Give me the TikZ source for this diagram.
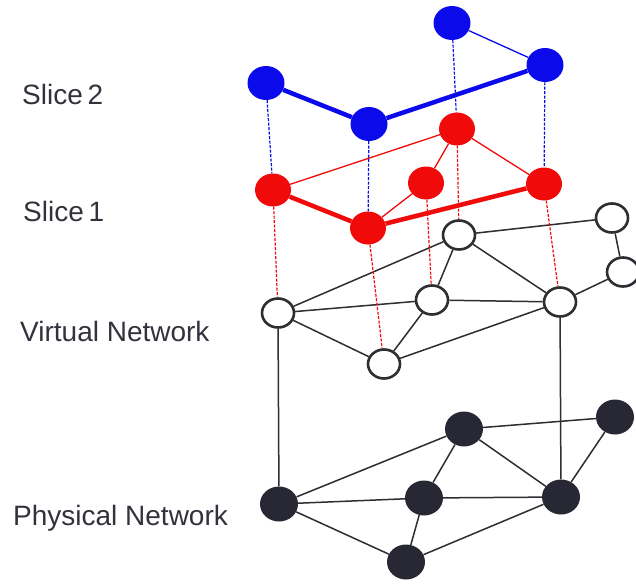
\documentclass[tikz,border=0pt]{standalone}
\usepackage{fontspec}
\setmainfont{Liberation Sans}
\usetikzlibrary{shapes.geometric}
\definecolor{bnode}{RGB}{10,10,235}
\definecolor{rnode}{RGB}{240,10,10}
\definecolor{pnode}{RGB}{40,40,52}
\definecolor{txt}{RGB}{50,50,60}
\definecolor{edge}{RGB}{45,45,50}
\tikzset{
  bluen/.style={ellipse,fill=bnode,minimum width=37pt,minimum height=34pt,inner sep=0pt},
  redn/.style={ellipse,fill=rnode,minimum width=36pt,minimum height=33pt,inner sep=0pt},
  virtn/.style={ellipse,draw=edge,line width=2.6pt,fill=white,minimum width=32pt,minimum height=29pt,inner sep=0pt},
  physn/.style={ellipse,fill=pnode,minimum width=38pt,minimum height=35pt,inner sep=0pt},
  lbl/.style={anchor=west,text=txt,font=\fontsize{28}{30}\selectfont,inner sep=0pt},
  bthick/.style={draw=bnode,line width=4.5pt},
  bthin/.style={draw=bnode,line width=1.3pt},
  rthick/.style={draw=rnode,line width=4.5pt},
  rthin/.style={draw=rnode,line width=1.3pt},
  bdash/.style={draw=bnode,line width=1.2pt,dash pattern=on 3pt off 1.5pt},
  rdash/.style={draw=rnode,line width=1.2pt,dash pattern=on 3pt off 1.5pt},
  vedge/.style={draw=edge,line width=1.5pt},
}
\begin{document}
\begin{tikzpicture}[x=1pt,y=-1pt]
\useasboundingbox (0,0) rectangle (636,583);
% labels
\node[lbl] (l2) at (22,94) {Slice\,2};
\node[lbl] (l1) at (23,211) {Slice\,1};
\node[lbl] (lv) at (20,331) {Virtual Network};
\node[lbl] (lp) at (13,518) {Physical Network};
% physical
\node[physn] (P1) at (279,504) {};
\node[physn] (P2) at (406,562) {};
\node[physn] (P3) at (424,498) {};
\node[physn] (P4) at (464,429) {};
\node[physn] (P5) at (561,497) {};
\node[physn] (P6) at (615,417) {};
% virtual
\node[virtn] (V1) at (278,313) {};
\node[virtn] (V2) at (384,364) {};
\node[virtn] (V3) at (432,300) {};
\node[virtn] (V4) at (459,235) {};
\node[virtn] (V5) at (560,302) {};
\node[virtn] (V6) at (612,218) {};
\node[virtn] (V7) at (623,272) {};
% slice 1
\node[redn] (R1) at (273,190) {};
\node[redn] (R2) at (368,228) {};
\node[redn] (R3) at (426,183) {};
\node[redn] (R4) at (457,129) {};
\node[redn] (R5) at (544,184) {};
% slice 2
\node[bluen] (B1) at (266,83) {};
\node[bluen] (B2) at (369,124) {};
\node[bluen] (B3) at (452,23) {};
\node[bluen] (B4) at (545,65) {};
% physical edges
\draw[vedge] (P1) -- (P4);
\draw[vedge] (P1) -- (P3);
\draw[vedge] (P1) -- (P2);
\draw[vedge] (P2) -- (P3);
\draw[vedge] (P3) -- (P4);
\draw[vedge] (P3) -- (P5);
\draw[vedge] (P4) -- (P5);
\draw[vedge] (P2) -- (P5);
\draw[vedge] (P4) -- (P6);
\draw[vedge] (P5) -- (P6);
% virtual edges
\draw[vedge] (V1) -- (V4);
\draw[vedge] (V1) -- (V3);
\draw[vedge] (V1) -- (V2);
\draw[vedge] (V2) -- (V3);
\draw[vedge] (V3) -- (V4);
\draw[vedge] (V3) -- (V5);
\draw[vedge] (V4) -- (V5);
\draw[vedge] (V2) -- (V5);
\draw[vedge] (V5) -- (V7);
\draw[vedge] (V6) -- (V7);
\draw[vedge] (V4) -- (V6);
% virtual to physical
\draw[vedge] (V1) -- (P1);
\draw[vedge] (V5) -- (P5);
% slice 1 edges
\draw[rthick] (R1) -- (R2);
\draw[rthick] (R2) -- (R5);
\draw[rthin] (R1) -- (R4);
\draw[rthin] (R4) -- (R3);
\draw[rthin] (R3) -- (R2);
\draw[rthin] (R4) -- (R5);
% slice 1 to virtual
\draw[rdash] (R1) -- (V1);
\draw[rdash] (R2) -- (V2);
\draw[rdash] (R3) -- (V3);
\draw[rdash] (R4) -- (V4);
\draw[rdash] (R5) -- (V5);
% slice 2 edges
\draw[bthick] (B1) -- (B2);
\draw[bthick] (B2) -- (B4);
\draw[bthin] (B3) -- (B4);
% slice 2 to slice 1
\draw[bdash] (B1) -- (R1);
\draw[bdash] (B2) -- (R2);
\draw[bdash] (B3) -- (R4);
\draw[bdash] (B4) -- (R5);
\end{tikzpicture}
\end{document}
